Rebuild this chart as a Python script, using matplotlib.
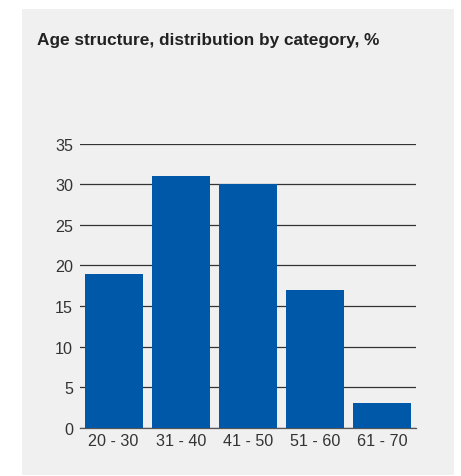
import matplotlib.pyplot as plt
from matplotlib.patches import Rectangle

# Age groups and their share of staff, %
categories = ['20 - 30', '31 - 40', '41 - 50', '51 - 60', '61 - 70']
shares = [19, 31, 30, 17, 3]
yticks = [0, 5, 10, 15, 20, 25, 30, 35]

BAR_COLOR = '#0058a8'
PANEL_COLOR = '#f0f0f0'
TEXT_COLOR = '#333333'

plt.rcParams['font.family'] = ['Liberation Sans', 'DejaVu Sans']

W, H = 461, 477
fig = plt.figure(figsize=(W / 100, H / 100), dpi=100)
fig.patch.set_facecolor('white')

# light grey card behind the chart
fig.patches.append(Rectangle((22 / W, 1 - 476 / H), 432 / W, 466 / H,
                             transform=fig.transFigure, facecolor=PANEL_COLOR,
                             edgecolor='none', zorder=-1))

fig.text(37 / W, 1 - 45 / H, 'Age structure, distribution by category, %',
         fontsize=12.4, fontweight='bold', color='#222222', va='baseline', ha='left')

ax = fig.add_axes([80 / W, 48.3 / H, 336 / W, 284 / H])
ax.set_facecolor('none')

x = range(len(categories))
ax.bar(x, shares, width=0.863, color=BAR_COLOR, zorder=3)

ax.set_xlim(-0.5, len(categories) - 0.5)
ax.set_ylim(0, 35)
ax.set_yticks(yticks)
ax.set_xticks(list(x))
ax.set_xticklabels(categories)

ax.grid(axis='y', color='#333333', linewidth=0.9, zorder=1)
ax.set_axisbelow(True)
for side in ['top', 'right', 'left']:
    ax.spines[side].set_visible(False)
ax.spines['bottom'].set_color('#555555')
ax.spines['bottom'].set_linewidth(0.9)

ax.tick_params(axis='both', length=0, labelsize=11.6, colors=TEXT_COLOR)
ax.tick_params(axis='y', pad=5)
ax.tick_params(axis='x', pad=4)

fig.savefig('out.png', dpi=100)
